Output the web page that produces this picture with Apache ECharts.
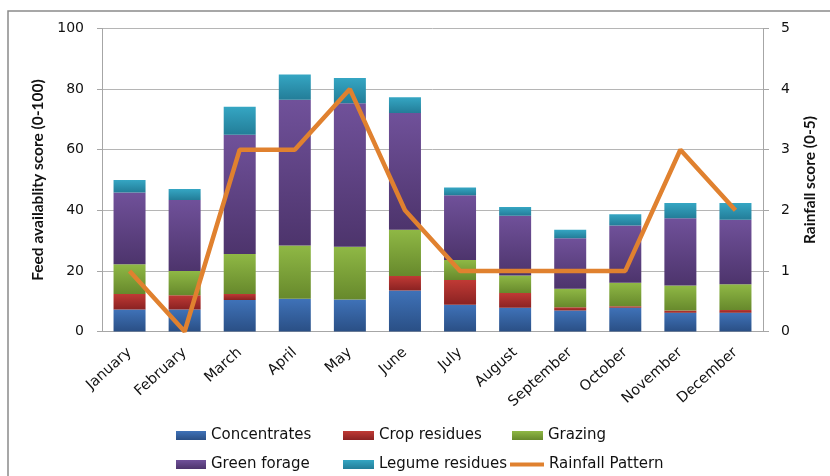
<!DOCTYPE html>
<html>
<head>
<meta charset="utf-8">
<script src="https://cdn.jsdelivr.net/npm/echarts@6/dist/echarts.min.js"></script>
<style>
html,body{margin:0;padding:0;background:#fff;}
#chart{width:830px;height:476px;}
</style>
</head>
<body>
<div id="chart"></div>
<script>
var months = ['January','February','March','April','May','June','July','August','September','October','November','December'];
var concentrates   = [7.3, 7.3, 10.4, 10.8, 10.6, 13.5, 8.8, 7.8, 6.9, 7.8, 6.2, 6.2];
var cropResidues   = [5.1, 4.7, 2.0, 0, 0, 4.8, 8.2, 4.9, 1.1, 0.5, 0.7, 0.9];
var grazing        = [9.8, 8.0, 13.2, 17.6, 17.4, 15.3, 6.6, 5.8, 6.1, 7.8, 8.3, 8.5];
var greenForage    = [23.7, 23.4, 39.3, 48.1, 47.3, 38.5, 21.4, 19.7, 16.7, 18.9, 22.2, 21.3];
var legumeResidues = [4.1, 3.6, 9.3, 8.3, 8.4, 5.2, 2.5, 2.9, 2.8, 3.7, 5.0, 5.5];
var rainfall       = [1, 0, 3, 3, 4, 2, 1, 1, 1, 1, 3, 2];
var leftTicks = [0, 20, 40, 60, 80, 100];
var rightTicks = [0, 1, 2, 3, 4, 5];

function grad(top, bottom){
  return new echarts.graphic.LinearGradient(0,0,0,1,[{offset:0,color:top},{offset:1,color:bottom}]);
}
var barDefs = [
  {name:'Concentrates', data:concentrates, c:grad('#3f72b8','#2a4f85')},
  {name:'Crop residues', data:cropResidues, c:grad('#c03a35','#8a2222')},
  {name:'Grazing', data:grazing, c:grad('#8fb845','#67892c')},
  {name:'Green forage', data:greenForage, c:grad('#70519a','#4d346c')},
  {name:'Legume residues', data:legumeResidues, c:grad('#35a6c3','#237d98')}
];
var series = barDefs.map(function(d){
  return {name:d.name,type:'bar',stack:'feed',data:d.data,barWidth:32,
    itemStyle:{color:d.c},emphasis:{disabled:true}};
});
series.push({name:'Rainfall Pattern',type:'line',yAxisIndex:1,data:rainfall,
  symbol:'none',lineStyle:{color:'#e0812f',width:4.5},itemStyle:{color:'#e0812f'}});

var legendFont = {fontFamily:'DejaVu Sans',fontSize:15,color:'#111'};
function lg(name,left,top,w,h){
  return {data:[name],left:left,top:top,itemWidth:w,itemHeight:h,padding:0,
    itemGap:0,textStyle:legendFont,selectedMode:false,icon:'rect'};
}
var legends = [
  lg('Concentrates',176,428,30,9),
  lg('Crop residues',343,428,31,9),
  lg('Grazing',512,428,31,9),
  lg('Green forage',176,457,30,9),
  lg('Legume residues',343,457,31,9),
  lg('Rainfall Pattern',510,457,34,4)
];

var chart = echarts.init(document.getElementById('chart'),null,{renderer:'canvas'});
chart.setOption({
  animation:false,
  backgroundColor:'#fff',
  graphic:[{type:'rect',shape:{x:8,y:11,width:900,height:600},
    style:{fill:'none',stroke:'#8a8a8a',lineWidth:1.5},silent:true,z:-1}],
  grid:{left:102,right:67,top:28.5,bottom:144.5},
  legend:legends,
  xAxis:{type:'category',data:months,
    axisLine:{lineStyle:{color:'#a6a6a6',width:1}},
    axisTick:{show:false},
    axisLabel:{rotate:42,margin:19,fontFamily:'DejaVu Sans',fontSize:14.5,color:'#111',interval:0}},
  yAxis:[
    {type:'value',min:0,max:100,interval:20,
     name:'Feed availablity score (0-100)',nameLocation:'middle',nameGap:55,nameRotate:90,
     nameTextStyle:{fontFamily:'Lato',fontWeight:'bold',fontSize:15.5,color:'#111'},
     axisLine:{show:true,lineStyle:{color:'#a6a6a6'}},
     axisTick:{show:true,length:5,lineStyle:{color:'#a6a6a6'}},
     splitLine:{lineStyle:{color:'#b5b5b5'}},
     axisLabel:{margin:18,fontFamily:'DejaVu Sans',fontSize:14,color:'#111',
       formatter:function(v){return leftTicks.indexOf(v)>=0?String(v):'';}}},
    {type:'value',min:0,max:5,interval:1,position:'right',
     name:'Rainfall score (0-5)',nameLocation:'middle',nameGap:39,nameRotate:90,
     nameTextStyle:{fontFamily:'Lato',fontWeight:'bold',fontSize:15.5,color:'#111'},
     axisLine:{show:true,lineStyle:{color:'#a6a6a6'}},
     axisTick:{show:true,length:6,lineStyle:{color:'#a6a6a6'}},
     splitLine:{show:false},
     axisLabel:{margin:18,fontFamily:'DejaVu Sans',fontSize:14,color:'#111',
       formatter:function(v){return rightTicks.indexOf(v)>=0?String(v):'';}}}
  ],
  series:series
});
</script>
</body>
</html>
